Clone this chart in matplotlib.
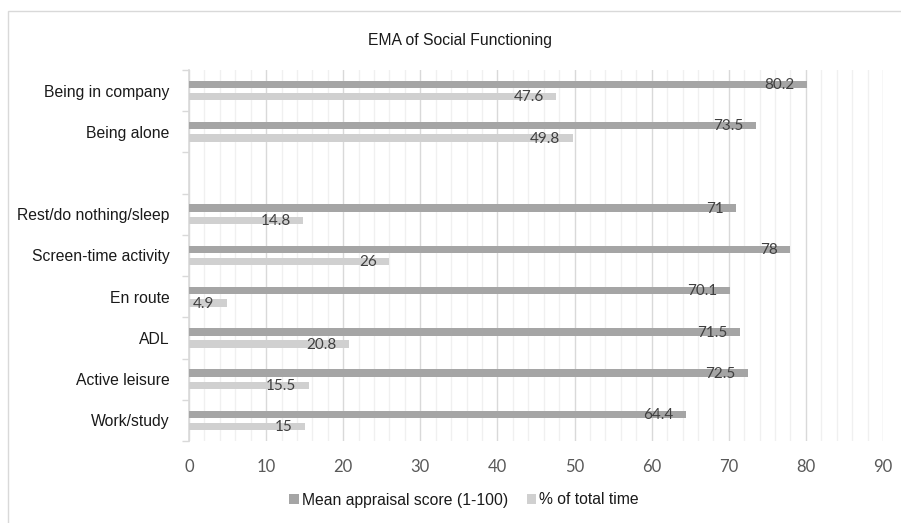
import numpy as np
from matplotlib import pyplot as plt
from matplotlib.patches import Rectangle, Patch

# kategorie od góry do dołu (pusta pozycja = odstęp między grupami)
categories = ["Being in company", "Being alone", "",
              "Rest/do nothing/sleep", "Screen-time activity", "En route",
              "ADL", "Active leisure", "Work/study"]
mean_score = [80.2, 73.5, None, 71, 78, 70.1, 71.5, 72.5, 64.4]
pct_time = [47.6, 49.8, None, 14.8, 26, 4.9, 20.8, 15.5, 15]

series_names = ["Mean appraisal score (1-100)", "% of total time"]
dark = "#a5a5a5"
light = "#d0d0d0"

W, H = 901, 523
fig = plt.figure(figsize=(W / 100, H / 100), dpi=100)
ax = fig.add_axes([189 / W, 1 - 441 / H, (883 - 189) / W, (441 - 70) / H])

# ramka wokół całego wykresu
fig.patches.append(Rectangle((8 / W, -0.05), 1.2, 1 - 11 / H + 0.05,
                             transform=fig.transFigure, fill=False,
                             edgecolor="#d9d9d9", linewidth=1.0))

y = np.arange(len(categories))
bar_h = 0.18
off = 0.148

def draw_series(values, shift, color):
    for yi, v in zip(y, values):
        if v is None:
            continue
        ax.barh(yi + shift, v, height=bar_h, color=color, zorder=3)
        ax.annotate("{:g}".format(v), xy=(v, yi + shift), xytext=(-9, -0.5),
                    textcoords="offset points", ha="right", va="center",
                    fontsize=11, color="#404040", family="Lato", zorder=4)

draw_series(mean_score, -off, dark)
draw_series(pct_time, off, light)

ax.set_xlim(0, 90)
ax.set_ylim(len(categories) - 0.5, -0.5)

# siatka: główne co 10, pomocnicze co 2
ax.set_xticks(np.arange(0, 91, 10))
ax.set_xticks(np.arange(0, 91, 2), minor=True)
ax.grid(axis="x", which="major", color="#d9d9d9", linewidth=1.0, zorder=0)
ax.grid(axis="x", which="minor", color="#f0f0f0", linewidth=1.0, zorder=0)
ax.tick_params(axis="x", which="both", length=0, pad=13,
               labelsize=12, labelcolor="#595959")
for lab in ax.get_xticklabels():
    lab.set_family("Lato")

# etykiety kategorii na środkach, kreski na granicach
ax.set_yticks(np.arange(-0.5, len(categories), 1.0))
ax.set_yticklabels([])
ax.tick_params(axis="y", which="major", length=5, color="#d9d9d9", width=1)
ax.set_yticks(y, minor=True)
ax.set_yticklabels(categories, minor=True, fontsize=11.3,
                   family="Liberation Sans", color="#1a1a1a")
ax.tick_params(axis="y", which="minor", length=0, pad=14)

for s in ["top", "right", "bottom"]:
    ax.spines[s].set_visible(False)
ax.spines["left"].set_color("#d9d9d9")
ax.spines["left"].set_linewidth(1.2)

fig.text(460 / W, 1 - 40 / H, "EMA of Social Functioning", ha="center",
         va="center", fontsize=11.3, family="Liberation Sans", color="#1a1a1a")

handles = [Patch(facecolor=dark), Patch(facecolor=light)]
fig.legend(handles, series_names, loc="center", ncol=2, frameon=False,
           bbox_to_anchor=(464 / W, 1 - 500 / H),
           prop={"family": "Liberation Sans", "size": 11.3},
           handlelength=0.6, handleheight=0.6, handletextpad=0.2,
           columnspacing=1.2, labelcolor="#1a1a1a")

fig.savefig("out.png", dpi=100)
